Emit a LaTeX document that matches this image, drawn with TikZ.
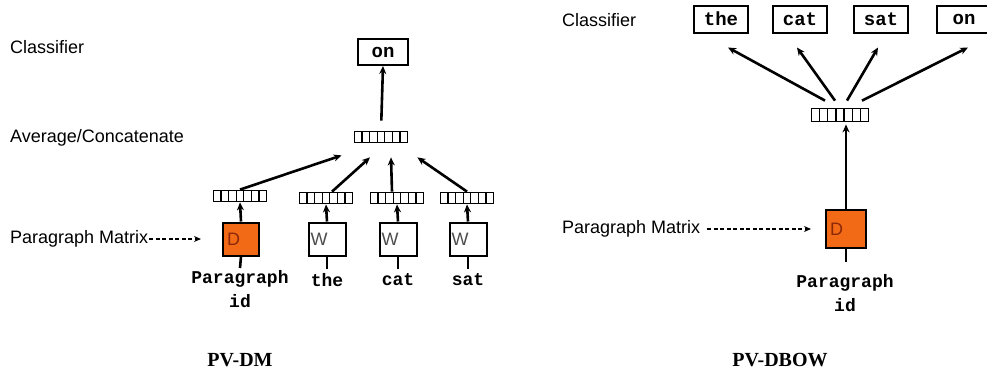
\documentclass[tikz,border=0pt]{standalone}
\usepackage{fontspec}
\setmainfont{Liberation Sans}
\setmonofont{Liberation Mono}
\newfontfamily\capfont{Liberation Serif}
\usetikzlibrary{positioning, arrows.meta, calc}

\begin{document}
\begin{tikzpicture}[x=1pt, y=-1pt, every node/.style={font=\fontsize{18}{20}\selectfont, inner sep=0pt},
  arr/.style={line width=2.6pt, -{Stealth[length=8pt, width=7pt]}},
  stub/.style={line width=2.6pt},
  dasharr/.style={line width=1.5pt, dash pattern=on 4pt off 2.5pt, -{Stealth[length=7pt, width=6pt]}},
  layerlbl/.style={anchor=west},
  wordlbl/.style={font=\fontsize{18}{24}\selectfont\ttfamily\bfseries, align=center, anchor=north},
  outbox/.style={draw, line width=2pt, minimum width=54pt, minimum height=27pt,
    font=\fontsize{19}{20}\selectfont\ttfamily\bfseries},
  wbox/.style={draw, line width=2pt, text width=#1, minimum height=33pt, inner xsep=2pt, align=left,
    font=\fontsize{18}{20}\selectfont, text=black!70},
  wbox/.default=33pt,
  dbox/.style={wbox=#1, fill=colD, text=colDtxt},
  dbox/.default=32pt,
  vecbox/.style={draw, line width=1.8pt, minimum width=#1, minimum height=11pt,
    path picture={\foreach \k in {1,...,6}
      \draw[line width=1.4pt] ($(path picture bounding box.south west)!\k/7!(path picture bounding box.south east)$)
        -- ($(path picture bounding box.north west)!\k/7!(path picture bounding box.north east)$);}},
  vecbox/.default=53pt]
  % Define colors
  \definecolor{colD}{RGB}{242,106,22}    % paragraph matrix - orange
  \definecolor{colDtxt}{RGB}{140,40,10}  % letter in the orange box

  \useasboundingbox (0,0) rectangle (987,381);

  % ---------------- PV-DM ----------------
  \node[layerlbl] (clsL) at (10,47) {Classifier};
  \node[layerlbl] (avgL) at (10,138) {Average/Concatenate};
  \node[layerlbl] (pmL)  at (10,239) {Paragraph Matrix};

  \node[dbox] (dL) at (241,239) {\hspace{2pt}D};
  \node[vecbox] (vL0) at (240,196) {};
  \node[wordlbl] (pid) at (240,270) {Paragraph\\id};
  \draw[dasharr] (pmL.east) -- (dL.west) [shorten >=21pt, shorten <=1pt];
  \draw[arr] (dL.north) -- (vL0.south);
  \draw[stub] (dL.south) -- ([yshift=2pt]pid.north);

  % context words
  \foreach \i/\x/\w in {1/327/the, 2/398/cat, 3/468/sat} {
    \node[wbox] (wL\i) at (\x,239) {W};
    \node[vecbox] (vL\i) at (\x-1,198) {};
    \node[wordlbl] (word\i) at (\x,273) {\w};
    \draw[arr] (wL\i.north) -- (vL\i.south);
    \draw[stub] (wL\i.south) -- ([yshift=4pt]word\i.north);
  }

  \node[vecbox] (avg) at (381,137) {};
  \node[outbox, minimum width=50pt, minimum height=26pt] (onL) at (383,52) {on};
  \draw[arr] (avg.north) -- (onL.south) [shorten <=10pt];

  \draw[arr] (vL0.north) -- ([shift={(-12,12)}]avg.south west);
  \draw[arr] ([xshift=6pt]vL1.north) -- ([shift={(-11,14)}]avg.south);
  \draw[arr] ([xshift=-5pt]vL2.north) -- ([shift={(10,14)}]avg.south);
  \draw[arr] (vL3.north) -- ([shift={(9,14)}]avg.south east);

  \node[font=\fontsize{20}{22}\selectfont\capfont\bfseries] (capL) at (240,360) {PV-DM};

  % ---------------- PV-DBOW ----------------
  \node[layerlbl] (clsR) at (562,20) {Classifier};
  \node[layerlbl] (pmR)  at (562,229) {Paragraph Matrix};

  \node[outbox] (oThe) at (721,19) {the};
  \node[outbox] (oCat) at (800,19) {cat};
  \node[outbox] (oSat) at (881,19) {sat};
  \node[outbox] (oOn)  at (964,19) {on};

  \node[vecbox=57pt, minimum height=13pt] (vR) at (840,115) {};
  \node[dbox=36pt, minimum height=38pt] (dR) at (846,229) {\hspace{2pt}D};
  \node[wordlbl] (pidR) at (845,274) {Paragraph\\id};

  \draw[dasharr] (pmR.east) -- (dR.west) [shorten >=14pt, shorten <=7pt];
  \draw[arr] (dR.north) -- (dR.north |- vR.south) [shorten >=2pt];
  \draw[stub] (dR.south) -- ([yshift=-13pt]dR.south);

  \draw[arr] ([xshift=-15pt, yshift=7pt]vR.north) -- ([shift={(7,14)}]oThe.south);
  \draw[arr] ([xshift=-5pt, yshift=7pt]vR.north) -- ([shift={(-3,14)}]oCat.south);
  \draw[arr] ([xshift=7pt, yshift=7pt]vR.north) -- ([shift={(-3,14)}]oSat.south);
  \draw[arr] ([xshift=22pt, yshift=7pt]vR.north) -- ([shift={(4,14)}]oOn.south);

  \node[font=\fontsize{20}{22}\selectfont\capfont\bfseries] (capR) at (780,360) {PV-DBOW};
\end{tikzpicture}
\end{document}
